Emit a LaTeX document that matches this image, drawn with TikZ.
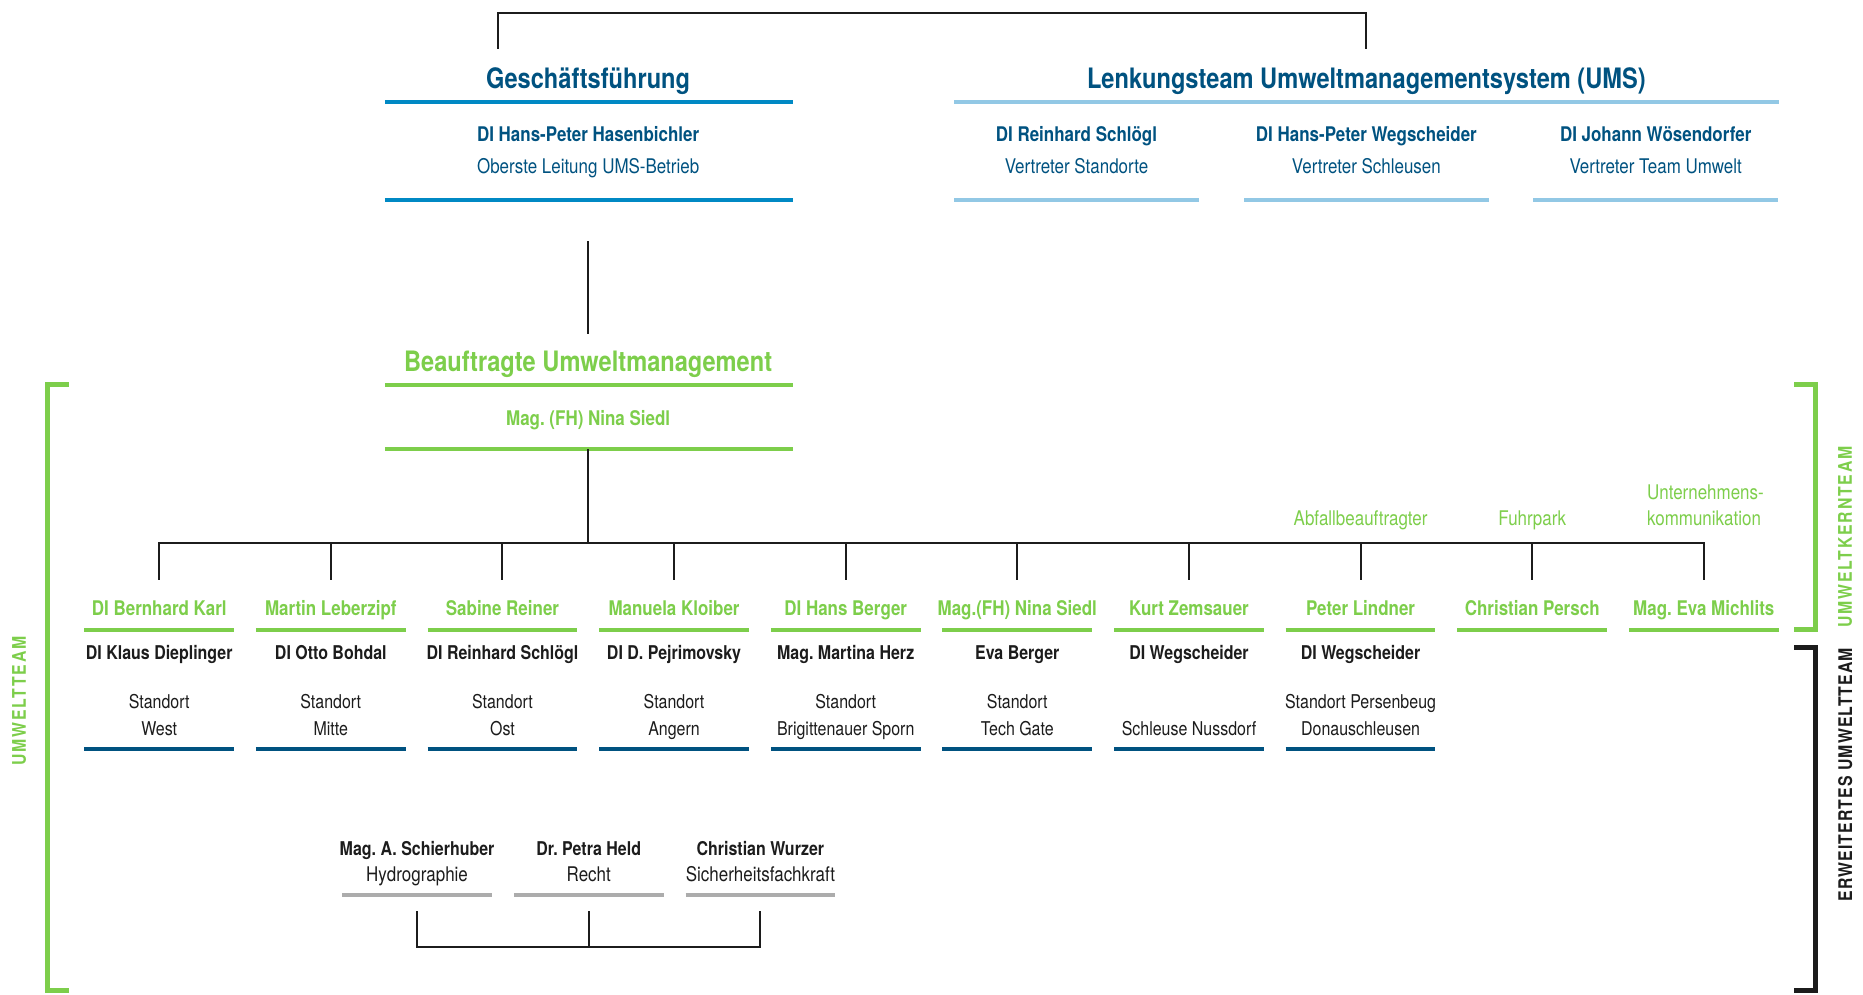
\documentclass[tikz,border=0pt]{standalone}
\usepackage{fontspec}
\setmainfont{TeX Gyre Heros}[FakeStretch=0.84]
\usepackage{tikz}
\frenchspacing

\definecolor{umsdark}{RGB}{0,82,128}
\definecolor{umsblue}{RGB}{0,137,196}
\definecolor{umslight}{RGB}{146,200,229}
\definecolor{umsgreen}{RGB}{125,206,75}
\definecolor{umsgrey}{RGB}{172,172,172}
\definecolor{umsblack}{RGB}{28,28,28}

\tikzstyle{mytitle} = [inner sep=0pt, anchor=base, font=\fontsize{14.2}{17}\selectfont\bfseries]
\tikzstyle{mylead} = [inner sep=0pt, anchor=base, font=\fontsize{10.2}{12}\selectfont\bfseries]
\tikzstyle{myrole} = [inner sep=0pt, anchor=base, font=\fontsize{10.2}{12}\selectfont]
\tikzstyle{mycolname} = [inner sep=0pt, anchor=base, font=\fontsize{9.6}{12}\selectfont\bfseries]
\tikzstyle{mycolsite} = [inner sep=0pt, anchor=base, font=\fontsize{9.6}{12}\selectfont]
\tikzstyle{mybar} = [line width=2pt]
\tikzstyle{myline} = [draw=umsblack, line width=1pt]
\tikzstyle{mybracket} = [line width=2.5pt]
\tikzstyle{myside} = [inner sep=0pt, rotate=90, font=\fontsize{9.5}{11}\selectfont\bfseries\addfontfeatures{LetterSpace=10}]
\tikzstyle{mysidenarrow} = [inner sep=0pt, rotate=90, font=\fontsize{9.5}{11}\selectfont\bfseries\addfontfeatures{LetterSpace=6}]

\begin{document}
\begin{tikzpicture}[x=0.6pt, y=-0.6pt]
\useasboundingbox (0,0) rectangle (1568,837);

% Geschaeftsfuehrung
\node [mytitle, text=umsdark] (gf) at (495,74.5) {Geschäftsführung};
\draw [mybar, umsblue] (324,86) -- (667,86);
\node [mylead, text=umsdark] (gfname) at (495,119) {DI Hans-Peter Hasenbichler};
\node [myrole, text=umsdark] (gfrole) at (495,146) {Oberste Leitung UMS-Betrieb};
\draw [mybar, umsblue] (324,168) -- (667,168);

% Lenkungsteam
\node [mytitle, text=umsdark] (lt) at (1150,74.5) {Lenkungsteam Umweltmanagementsystem (UMS)};
\draw [mybar, umslight] (803,86) -- (1497,86);
\foreach \n/\x/\who/\what in {1/906/DI Reinhard Schlögl/Vertreter Standorte,
                              2/1150/DI Hans-Peter Wegscheider/Vertreter Schleusen,
                              3/1393.5/DI Johann Wösendorfer/Vertreter Team Umwelt}{
  \node [mylead, text=umsdark] (ltname\n) at (\x,119) {\who};
  \node [myrole, text=umsdark] (ltrole\n) at (\x,146) {\what};
  \draw [mybar, umslight] (\x-103,168) -- (\x+103,168);
}

% Beauftragte
\node [mytitle, text=umsgreen] (bu) at (495,312.5) {Beauftragte Umweltmanagement};
\draw [mybar, umsgreen] (324,324) -- (667,324);
\node [mylead, text=umsgreen] (buname) at (495,358) {Mag. (FH) Nina Siedl};
\draw [mybar, umsgreen] (324,378) -- (667,378);

% Verbindungen oben
\coordinate (gfup) at (419,41);
\coordinate (ltup) at (1150,41);
\draw [myline] (gfup) -- ++(0,-30) -| (ltup);
\coordinate (gfdown) at (495,203);
\coordinate (buin) at (495,281);
\draw [myline] (gfdown) -- (buin);
\coordinate (buout) at (495,378);
\coordinate (hub) at (495,457);
\draw [myline] (buout) -- (hub);

% Umweltteam
\foreach \n/\x/\gname/\bname/\la/\lb in {
  1/134/DI Bernhard Karl/DI Klaus Dieplinger/Standort/West,
  2/278.4/Martin Leberzipf/DI Otto Bohdal/Standort/Mitte,
  3/422.9/Sabine Reiner/DI Reinhard Schlögl/Standort/Ost,
  4/567.3/Manuela Kloiber/DI D. Pejrimovsky/Standort/Angern,
  5/711.8/DI Hans Berger/Mag. Martina Herz/Standort/Brigittenauer Sporn,
  6/856.2/Mag.(FH) Nina Siedl/Eva Berger/Standort/Tech Gate,
  7/1000.7/Kurt Zemsauer/DI Wegscheider/{}/Schleuse Nussdorf,
  8/1145.1/Peter Lindner/DI Wegscheider/Standort Persenbeug/Donauschleusen}{
  \node [mylead, text=umsgreen] (head\n) at (\x,518) {\gname};
  \draw [mybar, umsgreen] (\x-63,530) -- (\x+63,530);
  \node [mycolname, text=umsblack] (name\n) at (\x,555) {\bname};
  \node [mycolsite, text=umsblack] (sitea\n) at (\x,596) {\la};
  \node [mycolsite, text=umsblack] (siteb\n) at (\x,619) {\lb};
  \draw [mybar, umsdark] (\x-63,630) -- (\x+63,630);
  \coordinate (in\n) at (\x,488);
  \draw [myline] (in\n) |- (hub);
}
\foreach \n/\x/\gname in {9/1289.6/Christian Persch, 10/1434/Mag. Eva Michlits}{
  \node [mylead, text=umsgreen] (head\n) at (\x,518) {\gname};
  \draw [mybar, umsgreen] (\x-63,530) -- (\x+63,530);
  \coordinate (in\n) at (\x,488);
  \draw [myline] (in\n) |- (hub);
}
\node [myrole, text=umsgreen] (note8) at (1145.1,442) {Abfallbeauftragter};
\node [myrole, text=umsgreen] (note9) at (1289.6,442) {Fuhrpark};
\node [myrole, text=umsgreen, anchor=base west] (note10a) at (1386,420) {Unternehmens-};
\node [myrole, text=umsgreen, anchor=base west] (note10b) at (1386,442) {kommunikation};

% erweitertes Team
\foreach \n/\x/\who/\what in {1/351/Mag. A. Schierhuber/Hydrographie,
                              2/495.5/Dr. Petra Held/Recht,
                              3/640/Christian Wurzer/Sicherheitsfachkraft}{
  \node [mycolname, text=umsblack] (ext\n) at (\x,720) {\who};
  \node [myrole, text=umsblack] (extrole\n) at (\x,742) {\what};
  \draw [mybar, umsgrey] (\x-63,753) -- (\x+63,753);
  \coordinate (exup\n) at (\x,767);
}
\coordinate (exhub) at (495.5,797);
\draw [myline] (exup1) |- (exhub) -| (exup3);
\draw [myline] (exup2) -- (exhub);

% Klammern
\draw [mybracket, umsgreen] (58,324) -| (40,834) -- (58,834);
\draw [mybracket, umsgreen] (1510,324) -| (1528,530) -- (1510,530);
\draw [mybracket, umsblack] (1510,545) -| (1528,834) -- (1510,834);
\node [myside, text=umsgreen] (ut) at (16,590) {UMWELTTEAM};
\node [myside, text=umsgreen] (ukt) at (1553,452) {UMWELTKERNTEAM};
\node [mysidenarrow, text=umsblack] (eut) at (1553,652) {ERWEITERTES UMWELTTEAM};
\end{tikzpicture}
\end{document}
